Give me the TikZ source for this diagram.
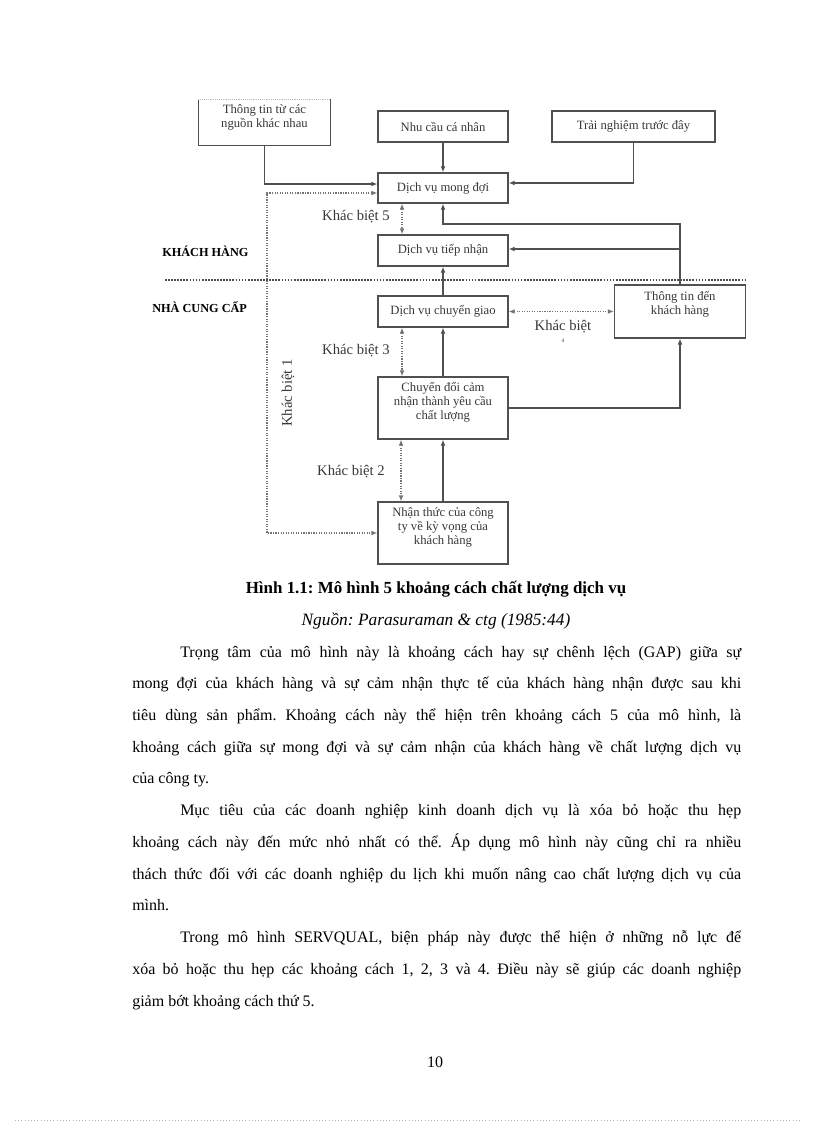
\documentclass[tikz,border=0pt]{standalone}
\usepackage{fontspec}
\setmainfont{Liberation Serif}
\usetikzlibrary{arrows.meta,calc}
\definecolor{vien}{RGB}{80,80,80}
\definecolor{chuxam}{RGB}{55,55,55}
\frenchspacing

\tikzset{
  hop/.style={draw=vien, line width=0.9pt, minimum width=97.5pt, inner sep=2pt,
    align=center, font=\fontsize{9.5}{11}\selectfont, text=chuxam},
  hopchu/.style={align=center, font=\fontsize{9.5}{10.5}\selectfont, text=chuxam},
  muiten/.style={draw=vien, line width=0.9pt, -{Latex[length=4.5pt,width=3.6pt]}},
  khacbiet/.style={draw=vien!80, line width=0.9pt, densely dotted,
    {Latex[length=4.5pt,width=3.6pt]}-{Latex[length=4.5pt,width=3.6pt]}},
  nhan/.style={font=\fontsize{11}{13}\selectfont, text=chuxam, inner sep=0pt},
  phia/.style={font=\bfseries\fontsize{9.2}{11}\selectfont, anchor=base west, inner sep=0pt},
}

\begin{document}
\begin{tikzpicture}[x=0.75pt, y=-0.75pt]
  \useasboundingbox (0,0) rectangle (816,1123);

  % phia khach hang
  \node[hop, draw=none, minimum width=98.25pt, minimum height=33.75pt,
    label={[hopchu, yshift=3.8pt]center:Thông tin từ các\\nguồn khác nhau}] (nguon) at (264.5,122.5) {};
  \draw[vien, line width=0.9pt] (nguon.north west) -- (nguon.south west) -- (nguon.south east) -- (nguon.north east);
  \draw[vien!40, densely dotted] (nguon.north west) -- (nguon.north east);
  \node[hop, minimum height=23.25pt] (nhucau) at (443,126.5) {Nhu cầu cá nhân};
  \node[hop, minimum width=122.25pt, minimum height=23.25pt] (trai) at (633.5,126.5) {Trải nghiệm trước đây};
  \node[hop, minimum height=22.5pt] (mongdoi) at (443,188) {Dịch vụ mong đợi};
  \node[hop, minimum height=23.25pt] (tiepnhan) at (443,250.5) {Dịch vụ tiếp nhận};

  \node[phia] (khach) at (162,256) {KHÁCH HÀNG};
  \draw[vien, line width=1.3pt, densely dotted] (165,280) -- (747,280);
  \node[phia] (ncc) at (152,312) {NHÀ CUNG CẤP};

  % phia nha cung cap
  \node[hop, minimum height=23.25pt] (chuyengiao) at (443,311.5) {Dịch vụ chuyển giao};
  \node[hop, minimum width=98.25pt, minimum height=39.75pt,
    label={[hopchu, yshift=5.5pt]center:Thông tin đến\\khách hàng}] (ttden) at (680,311.5) {};
  \node[hop, minimum height=46.5pt,
    label={[hopchu, yshift=4.5pt]center:Chuyển đổi cảm\\nhận thành yêu cầu\\chất lượng}] (chuyendoi) at (443,408) {};
  \node[hop, minimum height=46.5pt,
    label={[hopchu, yshift=4.5pt]center:Nhận thức của công\\ty về kỳ vọng của\\khách hàng}] (nhanthuc) at (443,533) {};

  \coordinate (goc1) at (267,360);
  \coordinate (re) at (680,224);
  \coordinate (rt) at (680,249);

  \draw[muiten] (nguon.south) |- ($(mongdoi.west)+(0,-4)$);
  \draw[khacbiet] ($(mongdoi.west)+(0,5)$) -| (goc1) |- (nhanthuc.west);
  \draw[muiten] (nhucau) -- (mongdoi);
  \draw[muiten] (trai.south) |- ($(mongdoi.east)+(0,-5)$);
  \draw[muiten] (ttden.north) -- (re) -| (mongdoi.south);
  \draw[muiten] (rt) -- (tiepnhan.east |- rt);
  \draw[muiten] (chuyengiao) -- (tiepnhan);
  \draw[khacbiet] ($(mongdoi.south)+(-41,0)$) -- ($(tiepnhan.north)+(-41,0)$);
  \draw[khacbiet] (chuyengiao.east) -- (chuyengiao.east -| ttden.west);
  \draw[khacbiet] ($(chuyengiao.south)+(-41,0)$) -- ($(chuyendoi.north)+(-41,0)$);
  \draw[muiten] (chuyendoi) -- (chuyengiao);
  \draw[muiten] (chuyendoi.east) -| (ttden.south);
  \draw[khacbiet] ($(chuyendoi.south)+(-42,0)$) -- ($(nhanthuc.north)+(-42,0)$);
  \draw[muiten] (nhanthuc) -- (chuyendoi);

  \node[nhan] (kb5) at (356,217) {Khác biệt 5};
  \node[nhan] (kb3) at (356,351) {Khác biệt 3};
  \node[nhan] (kb2) at (351,472) {Khác biệt 2};
  \node[nhan, rotate=90] (kb1) at (288,393) {Khác biệt 1};
  \node[nhan] (kb4) at (563,327) {Khác biệt};
  \node[nhan, font=\fontsize{4}{4}\selectfont] (kb4so) at (563,341) {4};

  % chu thich va van ban
  \node[font=\bfseries\fontsize{12.7}{15}\selectfont, anchor=base] (hinh) at (436,593)
    {Hình 1.1: Mô hình 5 khoảng cách chất lượng dịch vụ};
  \node[font=\itshape\fontsize{13}{15}\selectfont, anchor=base] (nguonhinh) at (436,625)
    {Nguồn: Parasuraman \& ctg (1985:44)};

  \node[anchor=base west, inner sep=0pt] (vanban) at (132,657) {\parbox[t]{456.75pt}{%
    \fontsize{12}{23.8}\selectfont\setlength{\parindent}{36pt}\setlength{\parskip}{0pt}%
    \tolerance=10000\emergencystretch=20pt
    Trọng tâm của mô hình này là khoảng cách hay sự chênh lệch (GAP) giữa sự\linebreak
    mong đợi của khách hàng và sự cảm nhận thực tế của khách hàng nhận được sau khi\linebreak
    tiêu dùng sản phẩm. Khoảng cách này thể hiện trên khoảng cách 5 của mô hình, là\linebreak
    khoảng cách giữa sự mong đợi và sự cảm nhận của khách hàng về chất lượng dịch vụ\linebreak
    của công ty.\par
    Mục tiêu của các doanh nghiệp kinh doanh dịch vụ là xóa bỏ hoặc thu hẹp\linebreak
    khoảng cách này đến mức nhỏ nhất có thể. Áp dụng mô hình này cũng chỉ ra nhiều\linebreak
    thách thức đối với các doanh nghiệp du lịch khi muốn nâng cao chất lượng dịch vụ của\linebreak
    mình.\par
    Trong mô hình SERVQUAL, biện pháp này được thể hiện ở những nỗ lực để\linebreak
    xóa bỏ hoặc thu hẹp các khoảng cách 1, 2, 3 và 4. Điều này sẽ giúp các doanh nghiệp\linebreak
    giảm bớt khoảng cách thứ 5.}};

  \node[anchor=base, font=\fontsize{12}{14}\selectfont] (trang) at (435,1067) {10};
  \draw[black!30, dotted] (15,1120) -- (801,1120);
\end{tikzpicture}
\end{document}
